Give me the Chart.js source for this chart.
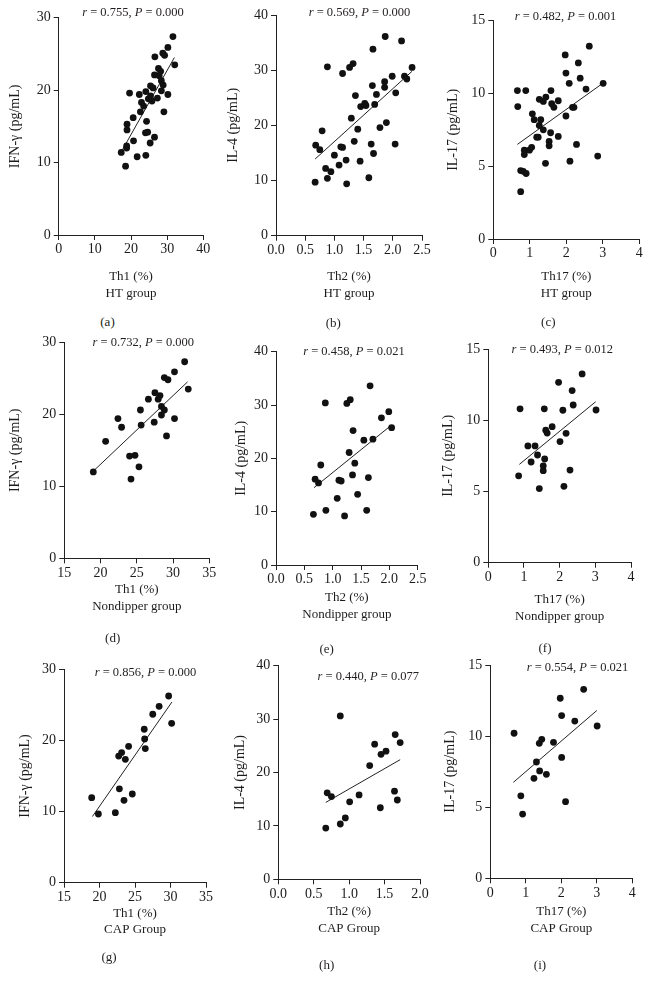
<!DOCTYPE html>
<html><head><meta charset="utf-8">
<script src="https://cdn.jsdelivr.net/npm/chart.js@4.4.1/dist/chart.umd.min.js"></script>
<style>
html,body{margin:0;padding:0;background:#fff;width:650px;height:981px;overflow:hidden;position:relative;font-family:"Liberation Serif","Times New Roman",serif;color:#231f20}
canvas{position:absolute}
.ann,.cap{position:absolute;white-space:nowrap;transform:translate(-50%,-50%);line-height:1}
.ann{font-size:12.5px}
.cap{font-size:13px}
</style></head><body>
<script>
// ---- HT group ----
const htTh1 = [17.3,18.5,18.8,18.8,18.9,18.9,19.6,20.6,20.7,21.7,22.3,22.6,22.9,23.5,24.1,24.0,24.6,24.1,24.3,24.8,25.3,25.4,25.8,25.4,26.1,26.5,26.5,26.6,27.3,27.6,27.8,28.2,28.4,28.4,28.8,28.9,29.1,29.3,30.2,30.2,31.6,32.1];
const htIFN = [11.4,9.5,12.3,12.0,15.3,14.5,19.6,16.2,13.0,10.8,19.4,17.0,18.3,17.8,19.8,14.1,14.2,11.0,15.7,18.8,12.7,19.2,18.5,20.6,20.3,13.5,22.1,24.6,18.9,23.0,22.0,22.6,19.9,21.3,25.1,20.7,17.0,24.8,25.9,19.4,27.4,23.5];
const htTh2 = [0.67,0.68,0.75,0.79,0.85,0.88,0.88,0.94,1.00,1.08,1.11,1.14,1.14,1.20,1.21,1.26,1.29,1.32,1.34,1.36,1.40,1.44,1.45,1.52,1.54,1.59,1.63,1.65,1.66,1.67,1.69,1.72,1.78,1.86,1.86,1.87,1.89,1.99,2.04,2.05,2.15,2.20,2.24,2.33];
const htIL4 = [9.7,16.4,15.6,19.0,12.2,10.4,30.6,11.6,14.6,12.8,16.1,16.0,29.4,13.7,9.4,30.5,21.3,31.2,17.1,25.4,19.3,13.5,23.4,24.0,23.6,10.5,16.6,27.2,33.8,14.9,23.8,25.6,19.6,27.9,26.9,36.1,20.5,28.9,16.6,25.9,35.3,28.9,28.4,30.5];
const htTh17 = [0.66,0.67,0.75,0.75,0.82,0.85,0.85,0.89,0.90,0.99,1.05,1.07,1.12,1.19,1.23,1.26,1.26,1.30,1.37,1.37,1.44,1.43,1.53,1.53,1.57,1.58,1.60,1.66,1.78,1.78,1.97,1.99,1.99,2.08,2.10,2.17,2.21,2.28,2.33,2.38,2.54,2.63,2.86,3.01];
const htIL17 = [10.2,9.1,4.7,3.25,4.65,6.1,5.8,10.2,4.5,6.1,6.3,8.6,8.2,7.0,7.0,9.6,7.8,8.2,9.45,7.5,9.75,5.2,6.7,6.4,7.3,10.2,9.3,9.05,9.5,7.05,12.65,11.4,8.45,10.7,5.35,9.05,9.05,6.5,12.1,11.05,10.3,13.25,5.7,10.7];
// ---- Nondipper group ----
const ndTh1 = [19.0,20.7,22.4,22.9,24.0,24.75,24.2,25.3,25.5,25.6,26.6,27.4,27.5,27.95,28.2,28.4,28.4,28.8,28.8,29.1,29.3,30.2,30.2,31.6,32.1];
const ndIFN = [12.0,16.25,19.4,18.2,14.2,14.3,11.0,12.7,20.6,18.5,22.1,18.9,23.0,22.1,22.6,21.1,19.9,20.6,25.1,17.0,24.8,25.9,19.4,27.3,23.5];
const ndTh2 = [0.66,0.69,0.75,0.79,0.88,0.87,1.08,1.11,1.15,1.21,1.25,1.29,1.31,1.35,1.36,1.39,1.44,1.55,1.60,1.63,1.71,1.66,1.86,1.99,2.04];
const ndIL4 = [9.5,16.1,15.4,18.75,10.25,30.4,12.5,15.9,15.75,9.2,30.3,21.1,31.0,16.9,25.2,19.1,13.25,23.4,10.25,16.4,23.6,33.6,27.6,28.75,25.75];
const ndTh17 = [0.85,0.89,1.11,1.31,1.20,1.38,1.57,1.61,1.65,1.79,1.58,1.54,1.54,1.43,1.97,2.01,2.09,2.12,2.18,2.29,2.35,2.38,2.63,3.02];
const ndIL17 = [6.1,10.8,8.2,8.2,7.07,7.56,10.8,9.3,9.1,9.55,7.28,6.8,6.46,5.2,12.66,8.5,10.7,5.36,9.08,6.5,12.08,11.07,13.25,10.72];
// ---- CAP group ----
const capTh1 = [18.9,19.84,22.23,22.7,23.12,23.64,22.8,23.45,24.1,24.62,26.3,26.36,26.45,27.5,28.4,29.74,30.16];
const capIFN = [11.95,9.66,9.84,17.8,18.3,17.35,13.2,11.58,19.17,12.47,21.57,20.2,18.85,23.68,24.8,26.25,22.4];
const capTh2 = [0.67,0.69,0.75,0.875,0.875,0.946,1.007,1.14,1.29,1.36,1.44,1.45,1.52,1.64,1.65,1.68,1.72];
const capIL4 = [9.6,16.2,15.5,10.36,30.6,11.5,14.5,15.8,21.3,25.3,13.4,23.4,24.0,16.5,27.1,14.85,25.6];
const capTh17 = [0.67,0.86,0.91,1.23,1.30,1.38,1.45,1.39,1.58,1.78,1.97,2.01,2.01,2.12,2.38,2.63,3.01];
const capIL17 = [10.2,5.8,4.52,7.03,8.18,9.49,9.77,7.55,7.31,9.56,12.66,11.44,8.5,5.39,11.06,13.29,10.71];
// ---- fitted lines (end points) ----
const fitA = [[17.0,11.2],[32.0,24.5]];
const fitB = [[0.67,13.9],[2.33,29.8]];
const fitC = [[0.66,6.5],[3.0,10.7]];
const fitD = [[19.1,12.2],[32.0,24.5]];
const fitE = [[0.67,14.5],[2.01,26.0]];
const fitF = [[0.87,6.9],[3.01,11.3]];
const fitG = [[19.0,9.3],[30.2,25.4]];
const fitH = [[0.67,14.4],[1.72,22.4]];
const fitI = [[0.65,6.75],[3.0,11.8]];
// ---- statistics labels ----
const rValues = ['0.755','0.569','0.482','0.732','0.458','0.493','0.856','0.440','0.554'];
const pValues = ['0.000','0.000','0.001','0.000','0.021','0.012','0.000','0.077','0.021'];
const captions = ['(a)','(b)','(c)','(d)','(e)','(f)','(g)','(h)','(i)'];
const groupNames = ['HT group','Nondipper group','CAP Group'];
const xNames = ['Th1 (%)','Th2 (%)','Th17 (%)'];
const yNames = ['IFN-γ (pg/mL)','IL-4 (pg/mL)','IL-17 (pg/mL)'];

const panels = [
  {xs:htTh1, ys:htIFN, fit:fitA, xMin:0, xMax:40, xStep:10, yMax:30, yStep:10, dec:0, col:0, row:0},
  {xs:htTh2, ys:htIL4, fit:fitB, xMin:0, xMax:2.5, xStep:0.5, yMax:40, yStep:10, dec:1, col:1, row:0},
  {xs:htTh17, ys:htIL17, fit:fitC, xMin:0, xMax:4, xStep:1, yMax:15, yStep:5, dec:0, col:2, row:0},
  {xs:ndTh1, ys:ndIFN, fit:fitD, xMin:15, xMax:35, xStep:5, yMax:30, yStep:10, dec:0, col:0, row:1},
  {xs:ndTh2, ys:ndIL4, fit:fitE, xMin:0, xMax:2.5, xStep:0.5, yMax:40, yStep:10, dec:1, col:1, row:1},
  {xs:ndTh17, ys:ndIL17, fit:fitF, xMin:0, xMax:4, xStep:1, yMax:15, yStep:5, dec:0, col:2, row:1},
  {xs:capTh1, ys:capIFN, fit:fitG, xMin:15, xMax:35, xStep:5, yMax:30, yStep:10, dec:0, col:0, row:2},
  {xs:capTh2, ys:capIL4, fit:fitH, xMin:0, xMax:2.0, xStep:0.5, yMax:40, yStep:10, dec:1, col:1, row:2},
  {xs:capTh17, ys:capIL17, fit:fitI, xMin:0, xMax:4, xStep:1, yMax:15, yStep:5, dec:0, col:2, row:2}
];

// page layout (pixels)
const layoutSpec = [
  {left:0,   axisX:58.7,  xEnd:203.3, yTop:17.7,  yBottom:235,   yTitleX:15,    xTitleY:276.7, annX:133,   annY:12.3,  capX:107.5, capY:321},
  {left:215, axisX:276,   xEnd:422,   yTop:15,    yBottom:235.7, yTitleX:233.3, xTitleY:276.7, annX:359.5, annY:12.3,  capX:333.3, capY:321.7},
  {left:430, axisX:493.3, xEnd:639.3, yTop:20.7,  yBottom:239,   yTitleX:453.3, xTitleY:276.7, annX:565.5, annY:16,    capX:548.3, capY:320.7},
  {left:0,   axisX:64.3,  xEnd:209.3, yTop:342.3, yBottom:558.3, yTitleX:15,    xTitleY:590,   annX:143.3, annY:342.3, capX:112.7, capY:636.7},
  {left:215, axisX:276,   xEnd:417.7, yTop:351.7, yBottom:565,   yTitleX:241.7, xTitleY:597.7, annX:354,   annY:351,   capX:326.7, capY:647.7},
  {left:430, axisX:488.3, xEnd:631,   yTop:349,   yBottom:562.7, yTitleX:448.3, xTitleY:600,   annX:562.3, annY:349,   capX:545,   capY:646.7},
  {left:0,   axisX:64,    xEnd:206,   yTop:669.3, yBottom:882.7, yTitleX:25,    xTitleY:913.3, annX:145.5, annY:672.3, capX:109,   capY:956},
  {left:215, axisX:278.3, xEnd:420,   yTop:665.7, yBottom:879.3, yTitleX:240,   xTitleY:911.7, annX:368.3, annY:675.7, capX:326.7, capY:964},
  {left:430, axisX:490.3, xEnd:632.3, yTop:665,   yBottom:878.3, yTitleX:450.7, xTitleY:911.7, annX:577.5, annY:667.3, capX:540,   capY:964.3}
];

const FONT = "'Liberation Serif','Times New Roman',serif";
const INK = '#1e1b1c';
const AXIS = '#222';

function build(p, L, idx) {
  const LH = 16.5, YFS = 14, YLH = 16.8;
  const scaleLeft = L.yTitleX - YLH / 2;
  const W = L.axisX - scaleLeft;
  const H = L.xTitleY - L.yBottom + 1.5 * LH;
  const cx = L.left, cy = Math.round(L.yTop - 15);
  const cw = Math.ceil(L.xEnd + 12 - cx);
  const ch = Math.ceil(L.yBottom + H - cy);
  const canvas = document.createElement('canvas');
  canvas.width = cw; canvas.height = ch;
  canvas.style.left = cx + 'px'; canvas.style.top = cy + 'px';
  canvas.style.width = cw + 'px'; canvas.style.height = ch + 'px';
  document.body.appendChild(canvas);
  const tickFont = {family: FONT, size: 14, lineHeight: 1.1};
  new Chart(canvas, {
    type: 'scatter',
    data: {datasets: [
      {data: p.xs.map((x, i) => ({x: x, y: p.ys[i]})), pointRadius: 3.4, pointHoverRadius: 3.4,
       backgroundColor: '#111', borderWidth: 0},
      {data: p.fit.map(v => ({x: v[0], y: v[1]})), showLine: true, pointRadius: 0,
       borderColor: '#222', borderWidth: 1, fill: false}
    ]},
    options: {
      responsive: false, animation: false, devicePixelRatio: 1, events: [],
      layout: {padding: {left: scaleLeft - cx, top: L.yTop - cy, right: cx + cw - L.xEnd,
                         bottom: Math.max(0, ch - (L.yBottom - cy) - H)}},
      plugins: {legend: {display: false}, tooltip: {enabled: false}},
      scales: {
        x: {type: 'linear', min: p.xMin, max: p.xMax,
            afterFit: s => { s.height = H; },
            ticks: {stepSize: p.xStep, color: INK, font: tickFont, padding: 2, maxRotation: 0, autoSkip: false,
                    callback: v => Number(v).toFixed(p.dec)},
            grid: {drawOnChartArea: false, drawTicks: true, tickLength: 5, color: AXIS},
            border: {display: true, color: AXIS, width: 1},
            title: {display: true, text: [xNames[p.col], groupNames[p.row]], color: INK,
                    font: {family: FONT, size: 13, lineHeight: LH / 13}, padding: 0}},
        y: {type: 'linear', min: 0, max: p.yMax,
            afterFit: s => { s.width = W; },
            ticks: {stepSize: p.yStep, color: INK, font: tickFont, padding: 3, autoSkip: false},
            grid: {drawOnChartArea: false, drawTicks: true, tickLength: 5, color: AXIS},
            border: {display: true, color: AXIS, width: 1},
            title: {display: true, text: yNames[p.col], color: INK,
                    font: {family: FONT, size: YFS, lineHeight: YLH / YFS}, padding: 0}}
      }
    }
  });
  const ann = document.createElement('div');
  ann.className = 'ann';
  ann.style.left = L.annX + 'px'; ann.style.top = L.annY + 'px';
  ann.innerHTML = '<i>r</i> = ' + rValues[idx] + ', <i>P</i> = ' + pValues[idx];
  document.body.appendChild(ann);
  const cap = document.createElement('div');
  cap.className = 'cap';
  cap.style.left = L.capX + 'px'; cap.style.top = L.capY + 'px';
  cap.textContent = captions[idx];
  document.body.appendChild(cap);
}

panels.forEach((p, i) => build(p, layoutSpec[i], i));
</script>
</body></html>
